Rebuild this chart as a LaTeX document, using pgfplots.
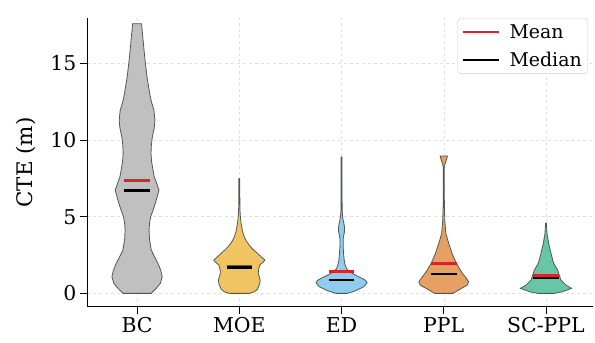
\documentclass[border=0pt]{standalone}
\usepackage{pgfplots}
\pgfplotsset{compat=1.18}
\usepackage{pgfplotstable}
\usepgfplotslibrary{fillbetween}
\usepackage{fontspec}
\setmainfont{DejaVu Serif}

\definecolor{cBC}{RGB}{192,192,192}
\definecolor{cMOE}{RGB}{240,196,98}
\definecolor{cED}{RGB}{142,205,238}
\definecolor{cPPL}{RGB}{230,160,100}
\definecolor{cSC}{RGB}{102,198,166}
\definecolor{edge}{RGB}{85,85,85}
\definecolor{meanred}{RGB}{214,39,40}

\pgfplotstableread{
y w
0.00 0.137
0.35 0.190
0.65 0.227
1.08 0.246
1.50 0.232
1.96 0.204
2.40 0.170
2.82 0.139
3.50 0.122
4.13 0.117
4.60 0.122
5.00 0.133
5.50 0.160
6.09 0.188
6.74 0.214
7.20 0.190
7.60 0.168
8.04 0.156
8.60 0.142
9.13 0.136
9.70 0.140
10.20 0.149
10.80 0.168
11.30 0.175
11.96 0.165
12.50 0.140
13.05 0.123
14.13 0.097
15.20 0.078
16.30 0.062
17.00 0.052
17.60 0.044
}\tBC

\pgfplotstableread{
y w
0.00 0.097
0.10 0.146
0.25 0.175
0.43 0.188
0.65 0.200
0.87 0.204
1.10 0.195
1.30 0.185
1.55 0.188
1.85 0.200
2.05 0.235
2.17 0.250
2.35 0.220
2.61 0.178
2.90 0.130
3.15 0.097
3.40 0.070
3.69 0.049
4.00 0.033
4.35 0.023
4.70 0.015
5.10 0.009
5.60 0.006
6.50 0.005
7.50 0.004
}\tMOE

\pgfplotstableread{
y w
0.00 0.055
0.17 0.136
0.43 0.217
0.69 0.250
0.85 0.235
0.98 0.200
1.19 0.136
1.41 0.078
1.60 0.050
1.74 0.042
1.95 0.032
2.17 0.026
2.60 0.020
3.04 0.016
3.59 0.016
3.80 0.022
4.02 0.029
4.25 0.030
4.46 0.026
4.78 0.016
5.10 0.009
5.43 0.006
6.50 0.005
8.90 0.004
}\tED

\pgfplotstableread{
y w
0.00 0.090
0.26 0.156
0.54 0.230
0.76 0.243
0.98 0.221
1.41 0.172
1.96 0.123
2.61 0.081
3.26 0.049
3.91 0.020
4.78 0.010
5.65 0.006
7.50 0.005
8.26 0.005
8.50 0.015
8.75 0.027
8.96 0.036
}\tPPL

\pgfplotstableread{
y w
0.00 0.080
0.11 0.162
0.33 0.250
0.54 0.195
0.87 0.146
1.19 0.130
1.52 0.114
1.96 0.075
2.61 0.049
3.26 0.026
3.91 0.010
4.57 0.004
}\tSC

\begin{document}
\begin{tikzpicture}
\begin{axis}[
  name=ax,
  scale only axis,
  width=505.7bp, height=288.4bp,
  xmin=-0.487, xmax=4.46,
  ymin=-0.87, ymax=17.95,
  axis x line*=bottom, axis y line*=left,
  axis line style={line width=0.9pt, -},
  xtick={0,1,2,3,4},
  xticklabels={BC,MOE,ED,PPL,SC-PPL},
  ytick={0,5,10,15},
  tick align=outside,
  major tick length=7.5bp,
  tick style={line width=0.9pt, black},
  grid=major,
  grid style={dashed, line width=0.5pt, black!12},
  /pgf/number format/assume math mode=true,
  tick label style={font=\fontsize{20.5}{24}\selectfont},
  ylabel={CTE (m)},
  ylabel shift=8bp,
  ylabel style={font=\fontsize{21.5}{25}\selectfont},
  legend style={at={(rel axis cs:0.99,1.0)}, anchor=north east,
    font=\fontsize{19}{23}\selectfont, draw=black!20, rounded corners=3pt,
    fill=white, fill opacity=0.9, text opacity=1,
    row sep=8bp, inner xsep=4bp, inner ysep=4bp,
    /tikz/every odd column/.append style={column sep=8bp}},
  legend cell align=left,
  legend image code/.code={\draw[#1, line width=1.8pt] (0bp,0bp) -- (36bp,0bp);},
]
% violins
\addplot[draw=none, name path=R0, forget plot] table[x expr={0+\thisrow{w}}, y=y] {\tBC};
\addplot[draw=none, name path=L0, forget plot] table[x expr={0-\thisrow{w}}, y=y] {\tBC};
\addplot[fill=cBC, draw=edge, line width=0.8pt, forget plot] fill between[of=R0 and L0, reverse=true];

\addplot[draw=none, name path=R1, forget plot] table[x expr={1+\thisrow{w}}, y=y] {\tMOE};
\addplot[draw=none, name path=L1, forget plot] table[x expr={1-\thisrow{w}}, y=y] {\tMOE};
\addplot[fill=cMOE, draw=edge, line width=0.8pt, forget plot] fill between[of=R1 and L1, reverse=true];

\addplot[draw=none, name path=R2, forget plot] table[x expr={2+\thisrow{w}}, y=y] {\tED};
\addplot[draw=none, name path=L2, forget plot] table[x expr={2-\thisrow{w}}, y=y] {\tED};
\addplot[fill=cED, draw=edge, line width=0.8pt, forget plot] fill between[of=R2 and L2, reverse=true];

\addplot[draw=none, name path=R3, forget plot] table[x expr={3+\thisrow{w}}, y=y] {\tPPL};
\addplot[draw=none, name path=L3, forget plot] table[x expr={3-\thisrow{w}}, y=y] {\tPPL};
\addplot[fill=cPPL, draw=edge, line width=0.8pt, forget plot] fill between[of=R3 and L3, reverse=true];

\addplot[draw=none, name path=R4, forget plot] table[x expr={4+\thisrow{w}}, y=y] {\tSC};
\addplot[draw=none, name path=L4, forget plot] table[x expr={4-\thisrow{w}}, y=y] {\tSC};
\addplot[fill=cSC, draw=edge, line width=0.8pt, forget plot] fill between[of=R4 and L4, reverse=true];

% means
\addplot[meanred, line width=2.8pt] coordinates {(-0.125,7.35) (0.125,7.35)};
\addlegendentry{Mean}
\addplot[black, line width=2.8pt] coordinates {(-0.125,6.69) (0.125,6.69)};
\addlegendentry{Median}
\addplot[meanred, line width=2.8pt, forget plot] coordinates {(0.875,1.74) (1.125,1.74)};
\addplot[meanred, line width=2.8pt, forget plot] coordinates {(1.875,1.41) (2.125,1.41)};
\addplot[meanred, line width=2.8pt, forget plot] coordinates {(2.875,1.93) (3.125,1.93)};
\addplot[meanred, line width=2.8pt, forget plot] coordinates {(3.875,1.17) (4.125,1.17)};
% medians
\addplot[black, line width=2.8pt, forget plot] coordinates {(0.875,1.68) (1.125,1.68)};
\addplot[black, line width=2.8pt, forget plot] coordinates {(1.875,0.87) (2.125,0.87)};
\addplot[black, line width=2.8pt, forget plot] coordinates {(2.875,1.26) (3.125,1.26)};
\addplot[black, line width=2.8pt, forget plot] coordinates {(3.875,1.00) (4.125,1.00)};
\end{axis}
\pgfresetboundingbox
\useasboundingbox (ax.south west) ++(-87.3bp,-36.3bp) rectangle ++(595bp,343bp);
\end{tikzpicture}
\end{document}
